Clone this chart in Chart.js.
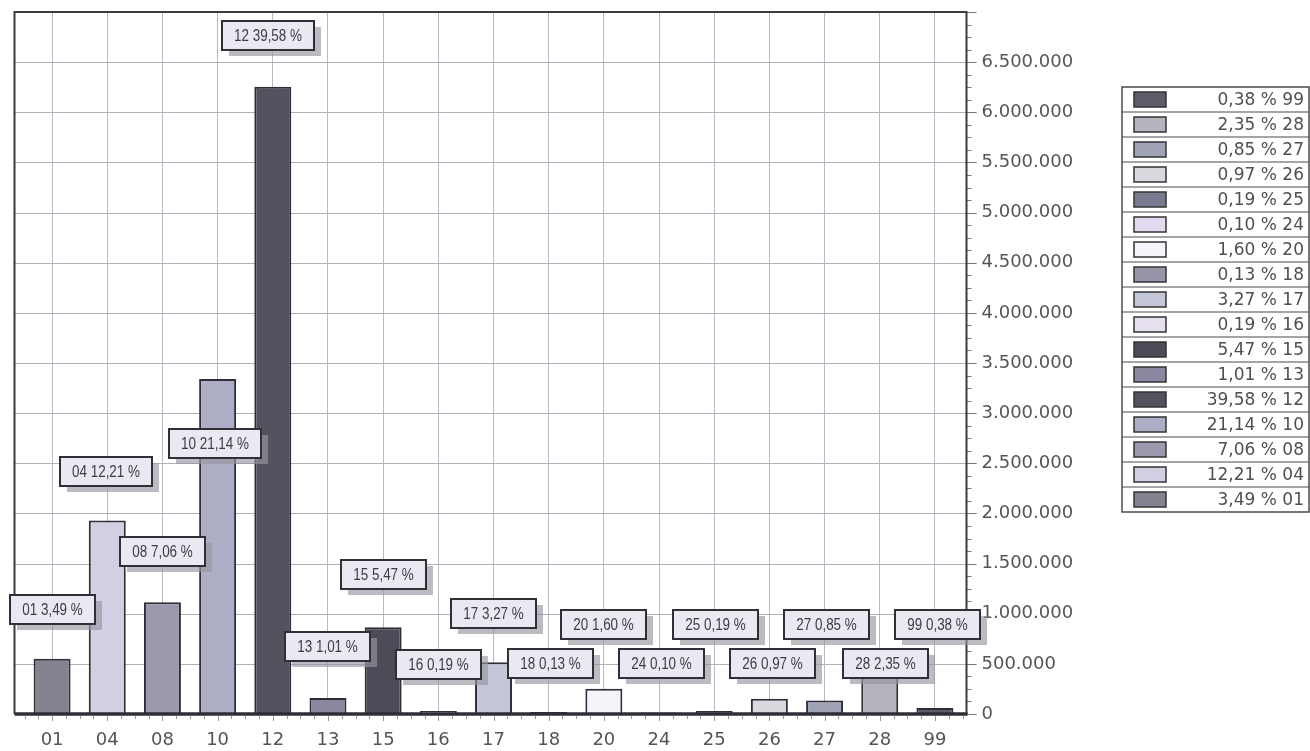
<!DOCTYPE html>
<html>
<head>
<meta charset="utf-8">
<script src="https://cdn.jsdelivr.net/npm/chart.js@4.4.1/dist/chart.umd.min.js"></script>
<style>
html, body { margin: 0; padding: 0; background: #fff; }
#wrap { width: 1310px; height: 751px; }
</style>
</head>
<body>
<div id="wrap"><canvas id="shareChart"></canvas></div>
<script>
// categories and amounts
const categories = ['01', '04', '08', '10', '12', '13', '15', '16', '17', '18', '20', '24', '25', '26', '27', '28', '99'];
const amounts = [551000, 1929000, 1115000, 3340000, 6254000, 160000, 864000, 30000, 517000, 20500, 253000, 15800, 30000, 153000, 134000, 371000, 60000];
const shares = [3.49, 12.21, 7.06, 21.14, 39.58, 1.01, 5.47, 0.19, 3.27, 0.13, 1.60, 0.10, 0.19, 0.97, 0.85, 2.35, 0.38];
const barColors = ['#85838f', '#d3cfe2', '#9d98ad', '#aeadc6', '#53535f', '#8a87a0', '#4c4c58', '#e6e0ee', '#c3c7d8',
    '#9a94a8', '#f6f4fa', '#e2daee', '#7a7a8e', '#d9d9e0', '#a0a2b6', '#b3b4bc', '#5c5c68'];
const yTickValues = [0, 500000, 1000000, 1500000, 2000000, 2500000, 3000000, 3500000, 4000000,
    4500000, 5000000, 5500000, 6000000, 6500000];

// where the callout boxes sit (value level, shift in categories)
const boxLevels = [1040000, 2420000, 1620000, 2700000, 6770000, 670000, 1390000, 490000, 1000000,
    500000, 890000, 500000, 890000, 500000, 890000, 500000, 890000];
const boxShift = [0, -0.03, 0, -0.05, -0.08, 0, 0, 0, 0, 0.03, 0, 0.05, 0.03, 0.05, 0.03, 0.1, 0.05];

function dots(v) {
    return String(v).replace(/\B(?=(\d{3})+(?!\d))/g, '.');
}
function pct(v) {
    return v.toFixed(2).replace('.', ',');
}

const scanLook = {
    id: 'scanLook',
    beforeDatasetsDraw(chart) {
        const ctx = chart.ctx, a = chart.chartArea, y = chart.scales.y;
        const fl = a.left - 10, fr = a.right + 4;
        ctx.save();
        ctx.strokeStyle = '#b0b0ba';
        ctx.lineWidth = 1;
        yTickValues.forEach(v => {
            const py = Math.round(y.getPixelForValue(v)) + 0.5;
            ctx.beginPath();
            ctx.moveTo(fl, py);
            ctx.lineTo(fr + 10, py);
            ctx.stroke();
        });
        ctx.restore();
    },
    afterDatasetsDraw(chart) {
        const ctx = chart.ctx, a = chart.chartArea, x = chart.scales.x, y = chart.scales.y;
        const fl = a.left - 10, fr = a.right + 4;
        ctx.save();

        // minor ticks on the right
        ctx.strokeStyle = '#777';
        ctx.lineWidth = 1;
        for (let v = 0; v <= 7000000; v += 125000) {
            const py = Math.round(y.getPixelForValue(v)) + 0.5;
            ctx.beginPath();
            ctx.moveTo(fr, py);
            ctx.lineTo(fr + (v % 500000 === 0 ? 10 : 5), py);
            ctx.stroke();
        }
        // minor ticks under the axis
        ctx.strokeStyle = '#999';
        for (let k = -0.5; k <= categories.length - 0.5; k += 0.25) {
            const px = Math.round(x.getPixelForValue(k)) + 0.5;
            ctx.beginPath();
            ctx.moveTo(px, a.bottom + 2);
            ctx.lineTo(px, a.bottom + (Number.isInteger(k) ? 7 : 5));
            ctx.stroke();
        }

        // frame
        ctx.strokeStyle = '#3a3a40';
        ctx.lineWidth = 2;
        ctx.beginPath();
        ctx.moveTo(fl, a.bottom);
        ctx.lineTo(fl, a.top);
        ctx.lineTo(fr, a.top);
        ctx.lineTo(fr, a.bottom);
        ctx.stroke();
        ctx.lineWidth = 3.5;
        ctx.strokeStyle = '#2e2e34';
        ctx.beginPath();
        ctx.moveTo(fl, a.bottom);
        ctx.lineTo(fr + 1, a.bottom);
        ctx.stroke();

        // callout boxes (condensed text)
        const squeeze = 0.84;
        ctx.font = '16px "Liberation Sans", sans-serif';
        ctx.textAlign = 'center';
        ctx.textBaseline = 'middle';
        categories.forEach((c, i) => {
            const txt = c + ' ' + pct(shares[i]) + ' %';
            const w = Math.round(ctx.measureText(txt).width * squeeze + 24);
            const h = 29;
            const cx = x.getPixelForValue(i + boxShift[i]);
            const cy = y.getPixelForValue(boxLevels[i]);
            const bx = Math.round(cx - w / 2), by = Math.round(cy - h / 2);
            ctx.fillStyle = 'rgba(150,150,160,0.65)';
            ctx.fillRect(bx + 7, by + 6, w, h);
            ctx.fillStyle = '#ece8f2';
            ctx.fillRect(bx, by, w, h);
            ctx.lineWidth = 2;
            ctx.strokeStyle = '#2f2f36';
            ctx.strokeRect(bx, by, w, h);
            ctx.save();
            ctx.translate(bx + w / 2, by + h / 2 + 1);
            ctx.scale(squeeze, 1);
            ctx.fillStyle = '#3c3c44';
            ctx.fillText(txt, 0, 0);
            ctx.restore();
        });
        ctx.restore();
    },
    afterDraw(chart) {
        // legend table, reversed order
        const ctx = chart.ctx;
        const lx = 1122, ly = 87, rowH = 25, lw = 187;
        const n = categories.length;
        ctx.save();
        ctx.strokeStyle = '#4a4a50';
        ctx.lineWidth = 1.5;
        ctx.strokeRect(lx, ly, lw, rowH * n);
        ctx.font = '17px "DejaVu Sans", sans-serif';
        ctx.textAlign = 'right';
        ctx.textBaseline = 'middle';
        for (let r = 0; r < n; r++) {
            const i = n - 1 - r;
            const top = ly + r * rowH;
            if (r > 0) {
                ctx.strokeStyle = '#4a4a50';
                ctx.lineWidth = 1.2;
                ctx.beginPath();
                ctx.moveTo(lx, top);
                ctx.lineTo(lx + lw, top);
                ctx.stroke();
            }
            ctx.fillStyle = barColors[i];
            ctx.fillRect(lx + 12, top + 5, 32, 15);
            ctx.strokeStyle = '#333';
            ctx.lineWidth = 1.5;
            ctx.strokeRect(lx + 12, top + 5, 32, 15);
            ctx.fillStyle = '#505050';
            ctx.fillText(pct(shares[i]) + ' % ' + categories[i], lx + lw - 5, top + rowH / 2 + 1);
        }
        ctx.restore();
    }
};

const ctx = document.getElementById('shareChart').getContext('2d');

new Chart(ctx, {
    type: 'bar',
    data: {
        labels: categories,
        datasets: [{
            data: amounts,
            backgroundColor: barColors,
            borderColor: '#2e2e38',
            borderWidth: 2,
            borderSkipped: 'bottom',
            barPercentage: 0.67,
            categoryPercentage: 1
        }]
    },
    options: {
        responsive: true,
        maintainAspectRatio: false,
        animation: false,
        layout: {
            padding: { left: 24.5, top: 12, right: 217.5, bottom: 0 }
        },
        plugins: {
            legend: { display: false },
            tooltip: { enabled: false }
        },
        scales: {
            x: {
                offset: true,
                grid: {
                    offset: false,
                    color: '#b8b8c2',
                    lineWidth: 1,
                    drawTicks: false
                },
                border: { display: false },
                ticks: {
                    font: { family: 'DejaVu Sans', size: 18 },
                    color: '#555',
                    padding: 16,
                    maxRotation: 0,
                    autoSkip: false
                },
                afterFit(s) {
                    s.height = 37;
                    s.paddingLeft = 0;
                    s.paddingRight = 0;
                }
            },
            y: {
                position: 'right',
                min: 0,
                max: 7000000,
                grid: { display: false, drawTicks: false },
                border: { display: false },
                ticks: {
                    stepSize: 500000,
                    font: { family: 'DejaVu Sans', size: 18 },
                    color: '#555',
                    padding: 19,
                    callback: v => dots(v)
                },
                afterBuildTicks(s) {
                    s.ticks = yTickValues.map(v => ({ value: v }));
                },
                afterFit(s) {
                    s.width = 130;
                    s.paddingTop = 0;
                    s.paddingBottom = 0;
                }
            }
        }
    },
    plugins: [scanLook]
});
</script>
</body>
</html>
